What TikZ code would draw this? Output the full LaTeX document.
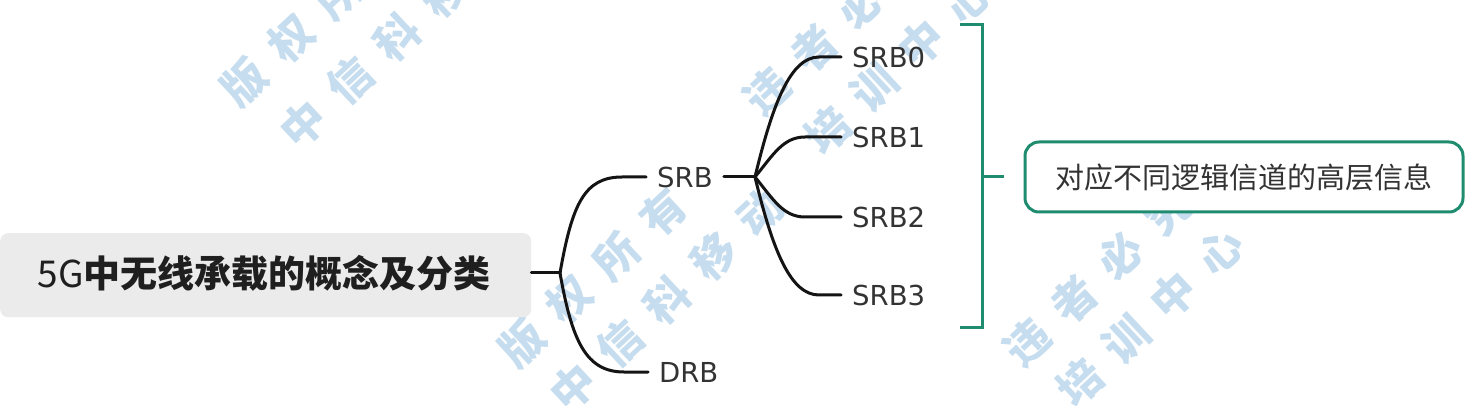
\documentclass[tikz,border=0pt]{standalone}
\usepackage{fontspec}
\setmainfont{DejaVu Sans}
\newfontfamily\cjk{Noto Sans CJK SC}
\newfontfamily\lat{DejaVu Sans}
\newcommand\wmsp{\hspace{20pt}}
\definecolor{tealA}{HTML}{1F8C70}
\definecolor{txtA}{HTML}{333333}
\definecolor{wmA}{HTML}{A8CCE8}
\definecolor{rootA}{HTML}{EBEBEB}
\begin{document}
\begin{tikzpicture}[x=1pt,y=-1pt]
\tikzset{
  conn/.style={line width=3pt, black!92, line cap=round},
  leaf/.style={font=\fontsize{27.5}{30}\lat, text=txtA, anchor=west, inner xsep=11pt, inner ysep=0pt},
  brk/.style={line width=3pt, tealA},
  wmark/.style={font=\fontsize{44}{46}\cjk\bfseries, text=wmA, opacity=0.65, rotate=43, inner sep=0pt},
}
\useasboundingbox (0,0) rectangle (1484,406);
\fill[white] (0,0) rectangle (1484,406);

% watermarks
\node[wmark] (w1a) at (315,17) {版\wmsp 权\wmsp 所\wmsp 有};
\node[wmark] (w1b) at (397,37) {中\wmsp 信\wmsp 科\wmsp 移\wmsp 动};
\node[wmark] (w2a) at (593,278) {版\wmsp 权\wmsp 所\wmsp 有};
\node[wmark] (w2b) at (667,300) {中\wmsp 信\wmsp 科\wmsp 移\wmsp 动};
\node[wmark] (w3a) at (837,26) {违\wmsp 者\wmsp 必\wmsp 究};
\node[wmark] (w3b) at (898,65) {培\wmsp 训\wmsp 中\wmsp 心};
\node[wmark] (w4a) at (1097,277) {违\wmsp 者\wmsp 必\wmsp 究};
\node[wmark] (w4b) at (1150,317) {培\wmsp 训\wmsp 中\wmsp 心};

% root
\node[fill=rootA, rounded corners=8pt, minimum width=531pt, minimum height=84pt, anchor=north west, inner sep=0pt] (root) at (0,233) {};
\node[font=\fontsize{37}{40}\cjk, text=black!88, inner sep=0pt] (title) at (264,273) {5G\textbf{中无线承载的概念及分类}};

\coordinate (rb) at (560,273);
\draw[conn] (root.east |- rb) -- (rb);

\node[leaf] (srb) at (646,177) {SRB};
\node[leaf] (drb) at (648,372) {DRB};
\draw[conn] (rb) .. controls +(12,-68) and +(-38,0) .. ([xshift=-24pt]srb.west) -- (srb.west);
\draw[conn] (rb) .. controls +(12,68) and +(-38,0) .. ([xshift=-24pt]drb.west) -- (drb.west);

\node[leaf] (s0) at (841,57) {SRB0};
\node[leaf] (s1) at (841,137) {SRB1};
\node[leaf] (s2) at (841,217) {SRB2};
\node[leaf] (s3) at (841,295) {SRB3};
\coordinate (sb) at (755,177);
\draw[conn] (srb.east) -- (sb);
\draw[conn] (sb) .. controls +(18,-75) and +(-28,0) .. ([xshift=-22pt]s0.west) -- (s0.west);
\draw[conn] (sb) .. controls +(18,-22) and +(-22,0) .. ([xshift=-36pt]s1.west) -- (s1.west);
\draw[conn] (sb) .. controls +(18,22) and +(-22,0) .. ([xshift=-36pt]s2.west) -- (s2.west);
\draw[conn] (sb) .. controls +(18,75) and +(-28,0) .. ([xshift=-22pt]s3.west) -- (s3.west);

% bracket
\coordinate (bt) at (960,25);
\coordinate (bb) at (960,327);
\coordinate (bm) at (982,177);
\draw[brk] (bt) -- (bt -| bm) -- (bb -| bm) -- (bb);
\node[draw=tealA, line width=3pt, rounded corners=14pt, minimum width=438pt, minimum height=70pt, fill=white, font=\fontsize{29}{32}\cjk, text=txtA, inner sep=0pt] (info) at (1244,177) {对应不同逻辑信道的高层信息};
\draw[brk] (bm) -- ([xshift=-20pt]info.west);
\end{tikzpicture}
\end{document}
